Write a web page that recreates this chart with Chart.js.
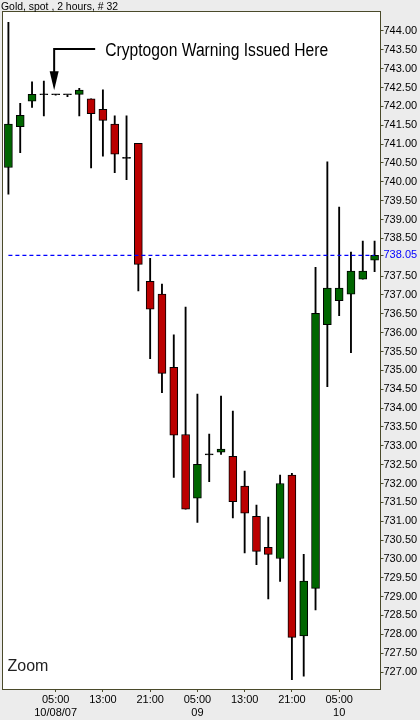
<!DOCTYPE html>
<html>
<head>
<meta charset="utf-8">
<script src="https://cdn.jsdelivr.net/npm/chart.js@4.4.1/dist/chart.umd.min.js"></script>
<style>
  html, body { margin: 0; padding: 0; background: #ececec; }
  #wrap { width: 420px; height: 720px; position: relative; }
</style>
</head>
<body>
<div id="wrap"><canvas id="gold"></canvas></div>
<script>
// Gold, spot, 2 hour bars
const categories = ['21:00', '23:00', '01:00', '03:00', '05:00', '07:00', '09:00', '11:00',
                    '13:00', '15:00', '17:00', '19:00', '21:00', '23:00', '01:00', '03:00',
                    '05:00', '07:00', '09:00', '11:00', '13:00', '15:00', '17:00', '19:00',
                    '21:00', '23:00', '01:00', '03:00', '05:00', '07:00', '09:00', '11:00'];
const open  = [740.38, 741.46, 742.14, 742.31, 742.31, 742.31, 742.32, 742.20, 741.92, 741.53, 740.62, 741.02, 737.36, 737.02, 735.08, 733.30,
               731.61, 732.76, 732.83, 732.72, 731.93, 731.13, 730.31, 730.01, 732.22, 727.96, 729.22, 736.21, 736.85, 737.02, 737.42, 737.92];
const high  = [744.23, 742.08, 742.65, 742.67, 742.32, 742.31, 742.48, 742.20, 742.44, 741.75, 741.75, 741.02, 737.97, 737.29, 735.94, 736.68,
               734.37, 733.31, 734.32, 733.92, 732.33, 731.43, 731.11, 732.22, 732.27, 730.12, 737.73, 740.53, 739.33, 738.14, 738.43, 738.43];
const low   = [739.67, 740.77, 741.97, 741.75, 742.30, 742.26, 741.75, 740.37, 740.68, 740.24, 740.06, 737.11, 735.31, 734.41, 732.16, 731.32,
               730.97, 732.05, 732.77, 731.09, 730.16, 729.85, 728.94, 729.40, 726.80, 726.89, 728.65, 734.57, 736.45, 735.47, 737.42, 737.62];
const close = [741.53, 741.76, 742.32, 742.31, 742.31, 742.31, 742.43, 741.81, 741.63, 740.73, 740.62, 737.81, 736.62, 734.92, 733.28, 731.32,
               732.51, 732.76, 732.91, 731.52, 731.21, 730.20, 730.12, 732.00, 727.92, 729.41, 736.51, 737.18, 737.18, 737.63, 737.63, 738.05];

const xTickIndex = [4, 8, 12, 16, 20, 24, 28];
const dayLabels  = ['10/08/07', '', '', '09', '', '', '10'];
const lastPrice = 738.05;
const warningIndex = 4;
const warningLevel = 743.53;

const yTicks = [];
for (let v = 727; v <= 744; v += 0.5) {
    if (v !== 738) yTicks.push(v);
}
yTicks.push(lastPrice);

const upColor = '#006600';
const downColor = '#bb0000';
const borderCol = '#4a4a2a';

const bodyColors = open.map((o, i) => {
    if (Math.abs(o - close[i]) < 0.03) return '#000000';
    return close[i] > o ? upColor : downColor;
});

const chartBg = {
    id: 'chartBg',
    beforeDraw(chart) {
        const { ctx, chartArea: a } = chart;
        ctx.save();
        ctx.fillStyle = '#ffffff';
        ctx.fillRect(a.left, a.top, a.right - a.left, a.bottom - a.top);
        ctx.restore();
    },
    afterDraw(chart) {
        const { ctx, chartArea: a } = chart;
        ctx.save();
        ctx.strokeStyle = borderCol;
        ctx.lineWidth = 1;
        const l = Math.floor(a.left) + 0.5, t = Math.floor(a.top) + 0.5;
        const r = Math.floor(a.right) + 0.5, b = Math.floor(a.bottom) + 0.5;
        ctx.strokeRect(l, t, r - l, b - t);
        // title
        ctx.fillStyle = '#000';
        ctx.font = '11px "Liberation Sans", Arial, sans-serif';
        ctx.textBaseline = 'alphabetic';
        const title = 'Gold, spot , 2 hours, # 32';
        const tw = ctx.measureText(title).width;
        ctx.save();
        ctx.translate(1, 9.5);
        ctx.scale(117 / tw, 1);
        ctx.fillText(title, 0, 0);
        ctx.restore();
        // zoom label
        ctx.fillStyle = '#222';
        ctx.font = '16px "Liberation Sans", Arial, sans-serif';
        ctx.fillText('Zoom', a.left + 5, a.bottom - 18);
        ctx.restore();
    }
};

const notes = {
    id: 'notes',
    afterDatasetsDraw(chart) {
        const { ctx, scales: { x, y } } = chart;
        ctx.save();
        // warning arrow
        const ax = x.getPixelForValue(warningIndex) - 1.5;
        const ly = Math.round(y.getPixelForValue(warningLevel));
        const tipY = y.getPixelForValue(high[warningIndex]) - 4;
        ctx.strokeStyle = '#000';
        ctx.lineWidth = 2;
        ctx.beginPath();
        ctx.moveTo(ax + 41, ly);
        ctx.lineTo(ax, ly);
        ctx.lineTo(ax, tipY - 16);
        ctx.stroke();
        ctx.fillStyle = '#000';
        ctx.beginPath();
        ctx.moveTo(ax - 4.5, tipY - 19);
        ctx.lineTo(ax + 4.5, tipY - 19);
        ctx.lineTo(ax, tipY);
        ctx.closePath();
        ctx.fill();

        const txt = 'Cryptogon Warning Issued Here';
        ctx.font = '18px "Liberation Sans", Arial, sans-serif';
        const w = ctx.measureText(txt).width;
        ctx.translate(ax + 51, ly + 6.5);
        ctx.scale(223 / w, 1);
        ctx.fillText(txt, 0, 0);
        ctx.restore();
    }
};

Chart.defaults.font.family = '"Liberation Sans", Arial, sans-serif';
Chart.defaults.font.size = 11;
Chart.defaults.color = '#000';

new Chart(document.getElementById('gold').getContext('2d'), {
    type: 'bar',
    data: {
        labels: categories,
        datasets: [
            {
                type: 'line',
                label: 'Last',
                data: categories.map(() => lastPrice),
                borderColor: '#0000ff',
                borderWidth: 1.2,
                borderDash: [4, 3],
                pointRadius: 0,
                fill: false,
                order: 0
            },
            {
                label: 'Range',
                data: low.map((l, i) => [l, high[i]]),
                backgroundColor: '#000',
                borderWidth: 0,
                barThickness: 1.2,
                grouped: false,
                order: 2
            },
            {
                label: 'Body',
                data: open.map((o, i) => [o, close[i]]),
                backgroundColor: bodyColors,
                borderColor: '#000',
                borderWidth: 1,
                borderSkipped: false,
                barThickness: 8,
                minBarLength: 1,
                grouped: false,
                order: 1
            }
        ]
    },
    options: {
        responsive: true,
        maintainAspectRatio: false,
        animation: false,
        layout: { padding: { left: 2.5, top: 11, right: 0, bottom: 0 } },
        plugins: {
            legend: { display: false },
            tooltip: { enabled: false },
            title: { display: false }
        },
        scales: {
            x: {
                type: 'category',
                offset: true,
                afterBuildTicks: scale => {
                    scale.ticks = xTickIndex.map(i => ({ value: i }));
                },
                afterFit: scale => { scale.height = 31; },
                grid: { drawOnChartArea: false, offset: false, tickLength: 3, tickColor: borderCol },
                border: { display: false },
                ticks: {
                    autoSkip: false,
                    maxRotation: 0,
                    padding: 1,
                    color: '#000',
                    callback: (value, index) => [categories[value], dayLabels[index]]
                }
            },
            y: {
                position: 'right',
                min: 726.55,
                max: 744.53,
                afterBuildTicks: scale => {
                    scale.ticks = yTicks.map(v => ({ value: v }));
                },
                afterFit: scale => { scale.width = 39.5; },
                grid: { drawOnChartArea: false, tickLength: 3, tickColor: borderCol },
                border: { display: false },
                ticks: {
                    autoSkip: false,
                    padding: 0,
                    color: ctx => ctx.tick && ctx.tick.value === lastPrice ? '#0000ff' : '#000',
                    callback: value => Number(value).toFixed(2)
                }
            }
        }
    },
    plugins: [chartBg, notes]
});
</script>
</body>
</html>
